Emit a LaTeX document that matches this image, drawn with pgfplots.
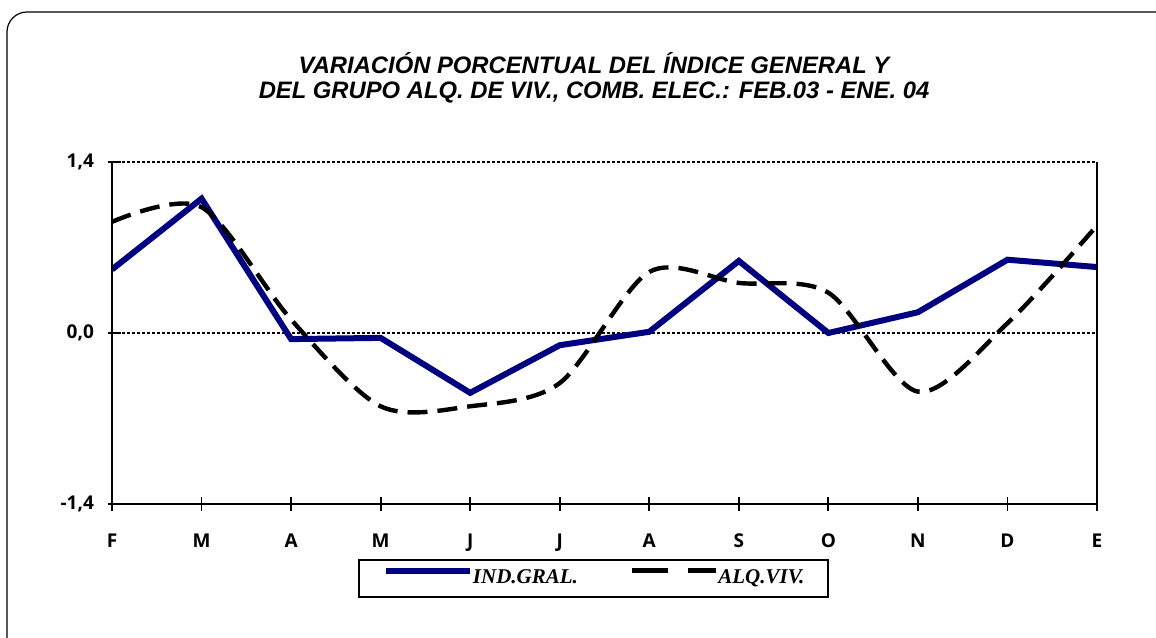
\documentclass[border=0pt]{standalone}
\usepackage{pgfplots}
\pgfplotsset{compat=1.18}
\usepackage{fontspec}
\setmainfont{Liberation Sans}
\newfontfamily\tickfont{Open Sans}
\newfontfamily\legfont{Liberation Serif}
\definecolor{indblue}{RGB}{0,0,128}

% 1 px of the reference = 0.5pt
\begin{document}
\begin{tikzpicture}
  \useasboundingbox (0,0) rectangle (578pt,318.5pt);
  \clip (0,0) rectangle (578pt,318.5pt);
  % outer frame (left and top edges visible)
  \draw[line width=0.6pt, rounded corners=10pt]
    (3.5pt,-20pt) -- (3.5pt,312.5pt) -- (600pt,312.5pt);
  % title
  \node[align=center, font=\bfseries\itshape\fontsize{11.9}{12.5}\selectfont]
    at (297pt,279.5pt)
    {VARIACIÓN PORCENTUAL DEL ÍNDICE GENERAL Y\\
     DEL GRUPO ALQ. DE VIV., COMB. ELEC.: FEB.03 - ENE. 04};
  \begin{axis}[
    name=ax,
    at={(56pt,66.5pt)}, anchor=south west,
    scale only axis,
    width=492.5pt, height=171pt,
    xmin=0, xmax=11,
    ymin=-1.4, ymax=1.4,
    xtick=data,
    xticklabels={F,M,A,M,J,J,A,S,O,N,D,E},
    ytick={-1.4,0,1.4},
    yticklabels={{-1,4},{0,0},{1,4}},
    xtick pos=bottom, ytick pos=left,
    tick align=outside,
    major tick length=6.5pt,
    tick style={black, line width=0.9pt},
    every x tick/.append style={yshift=3.25pt},
    every y tick/.append style={xshift=4.5pt},
    axis line style={draw=none},
    ymajorgrids=true,
    grid style={black, line width=0.7pt, dash pattern=on 1.5pt off 1pt},
    tick label style={font=\tickfont\bfseries\fontsize{9.5}{10}\selectfont},
    yticklabel style={xshift=1pt},
    xticklabel style={yshift=-5pt},
    legend columns=2,
    legend style={at={(0.489,-0.161)}, anchor=north,
      draw=black, line width=1pt,
      inner xsep=12pt, inner ysep=3pt,
      font=\legfont\bfseries\itshape\fontsize{10.5}{11}\selectfont,
      /tikz/every odd column/.append style={column sep=0pt},
      /tikz/every even column/.append style={column sep=26pt},
      nodes={inner xsep=0pt}},
    legend image code/.code={\draw[#1] (0pt,4pt) -- (42pt,4pt);},
  ]
    \addplot[indblue, line width=3pt]
      coordinates {(0,0.52) (1,1.10) (2,-0.05) (3,-0.04) (4,-0.49) (5,-0.10)
                   (6,0.01) (7,0.59) (8,0.00) (9,0.17) (10,0.60) (11,0.54)};
    \addplot[black, line width=2.2pt, smooth, dash pattern=on 10pt off 5pt,
      legend image code/.code={\draw[black, line width=2.2pt,
        dash pattern=on 18pt off 10pt] (0pt,4pt) -- (42pt,4pt);}]
      coordinates {(0,0.91) (1,1.03) (2,0.11) (3,-0.60) (4,-0.60) (5,-0.41)
                   (6,0.50) (7,0.41) (8,0.33) (9,-0.48) (10,0.08) (11,0.88)};
    \legend{IND.GRAL., ALQ.VIV.}
  \end{axis}
  % axis frame: left, bottom, right
  \draw[black, line width=1pt]
    (ax.north west) -- (ax.south west) -- (ax.south east) -- (ax.north east);
\end{tikzpicture}
\end{document}
